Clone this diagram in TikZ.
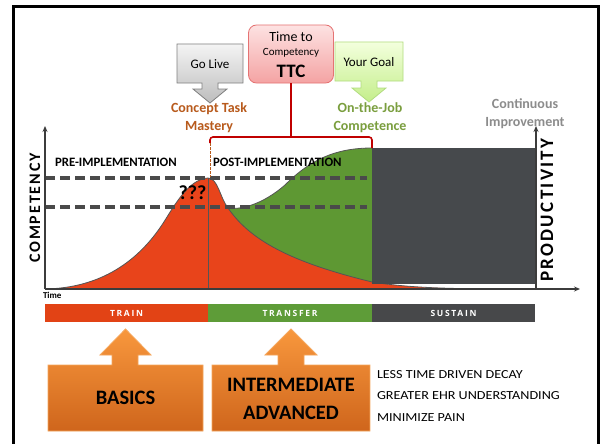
\documentclass[tikz,border=0pt]{standalone}
\usepackage{fontspec}
\setmainfont{Carlito}
\newfontfamily\compfont[LetterSpace=12]{Carlito}
\newfontfamily\barfont[LetterSpace=20]{Open Sans}
\newfontfamily\widefont[FakeStretch=1.15]{Carlito}
\usetikzlibrary{arrows.meta}
\definecolor{cred}{HTML}{E8441B}
\definecolor{cgreen}{HTML}{5E9833}
\definecolor{cgray}{HTML}{46494C}
\definecolor{cdash}{HTML}{4A4A4A}
\definecolor{coutline}{HTML}{555555}
\definecolor{axiscol}{HTML}{3C3C3C}
\definecolor{cbrown}{HTML}{B85A1C}
\definecolor{cgoal}{HTML}{7A9E3E}
\definecolor{cimp}{HTML}{8C8C8C}
\definecolor{cbrk}{HTML}{C00000}
\definecolor{orTop}{HTML}{F8983D}
\definecolor{orBot}{HTML}{CF651C}
\definecolor{orBorder}{HTML}{F5A65B}
\definecolor{barred}{HTML}{E24315}
\definecolor{bargreen}{HTML}{5E9C38}
\definecolor{bargray}{HTML}{47484A}
\definecolor{pinkTop}{HTML}{FDE2E2}
\definecolor{pinkBot}{HTML}{F4A3A3}
\definecolor{pinkBorder}{HTML}{E57373}
\definecolor{greyTop}{HTML}{F4F4F4}
\definecolor{greyBot}{HTML}{BDBDBD}
\definecolor{greyBorder}{HTML}{808080}
\definecolor{goalTop}{HTML}{F3FFDD}
\definecolor{goalBot}{HTML}{C4EE8A}
\definecolor{goalBorder}{HTML}{B2DC80}
\tikzset{
  every node/.style={inner sep=0pt, outer sep=0pt},
  axisline/.style={draw=axiscol, line width=1.3pt, -{Stealth[length=6pt,width=5pt]}},
  dashln/.style={draw=cdash, line width=3.6pt, dash pattern=on 10pt off 5pt},
  bracket/.style={draw=cbrk, line width=1.6pt, rounded corners=3pt},
  curveline/.style={draw=coutline, line width=0.8pt},
  barseg/.style={minimum height=18pt, text=white, font=\barfont\bfseries\fontsize{8.5}{10}\selectfont},
  orangeshape/.style={draw=orBorder, line width=0.8pt, top color=orTop, bottom color=orBot},
  greyshape/.style={draw=greyBorder, line width=0.8pt, top color=greyTop, bottom color=greyBot},
  goalshape/.style={draw=goalBorder, line width=0.8pt, top color=goalTop, bottom color=goalBot},
  bigtxt/.style={font=\bfseries\fontsize{20.5}{24}\selectfont},
  sidetxt/.style={anchor=west, font=\widefont\fontsize{12.3}{14}\selectfont},
  phase/.style={anchor=west, font=\bfseries\fontsize{12.8}{14}\selectfont},
  milestone/.style={align=center, font=\bfseries\fontsize{14}{18}\selectfont},
}
\begin{document}
\begin{tikzpicture}[x=1pt,y=-1pt]
\useasboundingbox (0,0) rectangle (602,444);
\fill[white] (0,0) rectangle (602,444);
% frame
\draw[line width=3pt] (13,444) -- (13,6.5) -- (598,6.5) -- (598,444);

% curves
\coordinate (peak) at (208,178);
\coordinate (split) at (228,208);
\coordinate (goaltop) at (372,148);
\fill[cgreen] (split) .. controls (240,210) and (262,205) .. (285,185)
  .. controls (310,160) and (335,148) .. (goaltop) -- (372,289) -- (228,289) -- cycle;
\fill[cred] (45,289) .. controls (100,288) and (140,262) .. (167,217)
  .. controls (180,196) and (192,179) .. (peak)
  .. controls (218,178) and (220,198) .. (split)
  .. controls (250,240) and (290,262) .. (372,282)
  .. controls (410,288) and (450,289) .. (520,289) -- cycle;
\draw[curveline] (45,289) .. controls (100,288) and (140,262) .. (167,217)
  .. controls (180,196) and (192,179) .. (peak)
  .. controls (218,178) and (220,198) .. (split)
  .. controls (250,240) and (290,262) .. (372,282)
  .. controls (410,288) and (450,289) .. (520,289);
\draw[curveline] (split) .. controls (240,210) and (262,205) .. (285,185)
  .. controls (310,160) and (335,148) .. (goaltop);
\fill[cgray] (372,148) rectangle (536,284);
\draw[curveline] (peak) -- (208,289);

% dashed levels
\draw[dashln] (45,178) -- (367,178);
\draw[dashln] (45,207) -- (367,207);

% axes
\coordinate (origin) at (45,289);
\coordinate (ytop) at (45,126);
\coordinate (xend) at (580,289);
\coordinate (rbase) at (536,289);
\coordinate (rtop) at (536,126);
\draw[axisline] (origin) -- (ytop);
\draw[axisline] (origin) -- (xend);
\draw[axisline] (rbase) -- (rtop);

\node[rotate=90, font=\compfont\bfseries\fontsize{16}{18}\selectfont] (comp) at (35,208) {COMPETENCY};
\node[rotate=90, font=\compfont\bfseries\fontsize{19}{20}\selectfont] (prod) at (547,210) {PRODUCTIVITY};
\node[anchor=north west, font=\bfseries\fontsize{9}{10}\selectfont] (time) at (43,292) {Time};

\node[phase] (pre) at (55,162) {PRE-IMPLEMENTATION};
\node[phase] (post) at (213,162) {POST-IMPLEMENTATION};
\node[font=\bfseries\fontsize{20}{22}\selectfont] (qqq) at (192.5,192.5) {???};

% top callouts
\path[greyshape] (177,44) -- (243,44) -- (243,83) -- (218,83) -- (218,89) -- (227,89)
  -- (210,103) -- (193,89) -- (202,89) -- (202,83) -- (177,83) -- cycle;
\node[font=\fontsize{13}{15}\selectfont] (golive) at (210,64) {Go Live};
\path[goalshape] (335,42) -- (403,42) -- (403,81) -- (377,81) -- (377,88) -- (386,88)
  -- (369,102) -- (352,88) -- (361,88) -- (361,81) -- (335,81) -- cycle;
\node[font=\fontsize{13}{15}\selectfont] (goal) at (369,62) {Your Goal};
\node[draw=pinkBorder, line width=0.8pt, top color=pinkTop, bottom color=pinkBot,
  rounded corners=8pt, minimum width=85pt, minimum height=58pt] (ttc) at (291,54) {};
\node[font=\fontsize{14}{16}\selectfont] (ttc1) at (291,37) {Time to};
\node[font=\fontsize{11}{13}\selectfont] (ttc2) at (291,52.5) {Competency};
\node[font=\bfseries\fontsize{19}{21}\selectfont] (ttc3) at (291,71) {TTC};

\node[milestone, text=cbrown] (ctm) at (209,118) {Concept Task\\Mastery};
\node[milestone, text=cgoal] (ojc) at (370,118) {On-the-Job\\Competence};
\node[milestone, text=cimp] (ci) at (525,114) {Continuous\\Improvement};

% bracket
\coordinate (bl) at (210,143);
\coordinate (blc) at (210,137);
\coordinate (bm) at (291,137);
\coordinate (brc) at (372,137);
\draw[bracket] (ttc.south) -- (bm);
\draw[bracket] (bl) -- (blc) -- (brc) -- (goaltop);
\draw[cbrown, line width=1pt, dash pattern=on 2.5pt off 1.5pt] (bl) -- (210,177);

% bottom bar
\node[barseg, fill=barred, minimum width=163pt] (train) at (126.5,313) {TRAIN};
\node[barseg, fill=bargreen, minimum width=164pt] (transfer) at (290,313) {TRANSFER};
\node[barseg, fill=bargray, minimum width=163pt] (sustain) at (453.5,313) {SUSTAIN};

% orange boxes
\path[orangeshape] (48,365) -- (112,365) -- (112,355) -- (100,355) -- (125.5,329) -- (151,355)
  -- (138,355) -- (138,365) -- (203,365) -- (203,431) -- (48,431) -- cycle;
\node[bigtxt] (basics) at (125.5,398) {BASICS};
\path[orangeshape] (212,365) -- (278,365) -- (278,355) -- (265,355) -- (291,329) -- (317,355)
  -- (304,355) -- (304,365) -- (370,365) -- (370,431) -- (212,431) -- cycle;
\node[bigtxt] (inter) at (291,385) {INTERMEDIATE};
\node[bigtxt] (adv) at (291,413) {ADVANCED};

\node[sidetxt] (s1) at (377,375) {LESS TIME DRIVEN DECAY};
\node[sidetxt] (s2) at (377,396) {GREATER EHR UNDERSTANDING};
\node[sidetxt] (s3) at (377,418) {MINIMIZE PAIN};
\end{tikzpicture}
\end{document}
